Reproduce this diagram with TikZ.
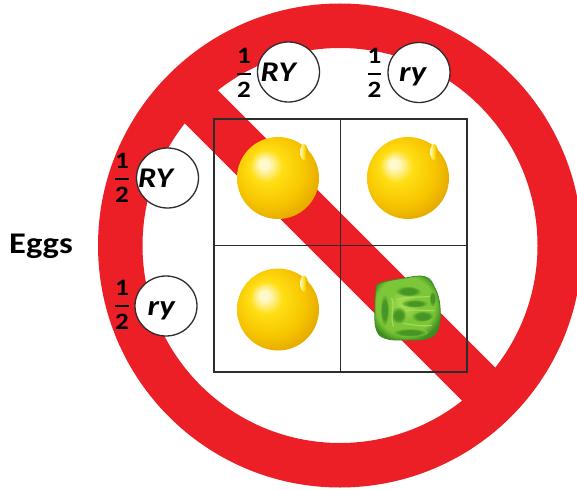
\documentclass[tikz,border=0pt]{standalone}
\usepackage{fontspec}
\setmainfont{Carlito}[FakeStretch=1.15]
\usepackage{amsmath}
\usetikzlibrary{shapes.geometric}

\definecolor{signred}{RGB}{236,30,38}
\definecolor{linegray}{RGB}{45,45,45}
\definecolor{pealight}{RGB}{255,248,200}
\definecolor{peayellow}{RGB}{255,222,20}
\definecolor{peamid}{RGB}{246,196,0}
\definecolor{peadark}{RGB}{222,160,0}
\definecolor{glight}{RGB}{170,222,90}
\definecolor{gmid}{RGB}{125,198,55}
\definecolor{gdark}{RGB}{60,140,32}
\definecolor{gpatch}{RGB}{70,150,38}
\definecolor{gridge}{RGB}{175,225,95}

\pgfdeclareradialshading{peashade}{\pgfpoint{-9bp}{9bp}}{%
  color(0bp)=(pealight); color(3bp)=(pealight); color(10bp)=(peayellow);
  color(22bp)=(peamid); color(33bp)=(peadark); color(50bp)=(peadark)}
\pgfdeclareradialshading{greenshade}{\pgfpoint{-3bp}{3bp}}{%
  color(0bp)=(glight); color(12bp)=(gmid); color(22bp)=(gmid); color(28bp)=(gdark); color(50bp)=(gdark)}
\pgfdeclareradialshading{patchshade}{\pgfpoint{0bp}{0bp}}{%
  color(0bp)=(gpatch); color(14bp)=(gpatch); color(25bp)=(gmid); color(50bp)=(gmid)}

\newcommand\onehalf{$\genfrac{}{}{2pt}{0}{\text{1}}{\text{2}}$}

\begin{document}
\begin{tikzpicture}[x=1pt,y=-1pt,
  gamete/.style={draw=linegray, line width=1.3pt, fill=white, ellipse,
    minimum width=62pt, minimum height=60pt, inner sep=0pt},
  allele/.style={font=\fontsize{28.5}{28.5}\selectfont\bfseries\itshape,
    inner sep=0pt, anchor=base west},
  half/.style={font=\fontsize{23.5}{23.5}\selectfont\bfseries, inner sep=0pt},
  cell/.style={draw=linegray, line width=1.3pt, minimum width=126.5pt,
    minimum height=126.5pt, inner sep=0pt},
  patch/.style={shading=patchshade},
  yellowpea/.pic={
    \shade[shading=peashade] (0,0) circle[radius=41pt];
    \shade[left color=pealight, right color=peadark, middle color=peayellow]
      (26,-26) ellipse[x radius=3.8pt, y radius=8pt];
  },
  greenpea/.pic={
    \shade[shading=greenshade, draw=gdark, line width=0.8pt]
      plot[smooth cycle, tension=0.7] coordinates {
        (-27.5,-25.2) (-4.2,-30.2) (17.5,-31.8) (27.5,-20.2) (32.5,-1.8)
        (30.8,19.8) (20.8,29.8) (-0.8,31.5) (-22.5,29.8) (-31.5,19.8)
        (-32.5,-1.8) (-31.5,-18.5)};
    % darker hollows between the wrinkles
    \shade[patch] (-23,1.5) ellipse[x radius=4.5pt, y radius=16pt];
    \shade[patch, rotate=-6] (-1,-17) ellipse[x radius=13pt, y radius=5pt];
    \shade[patch] (7.5,-5) ellipse[x radius=13pt, y radius=4pt];
    \shade[patch] (-9,7) ellipse[x radius=7.5pt, y radius=8pt];
    \shade[patch, rotate=8] (14,10) ellipse[x radius=11pt, y radius=5pt];
    \shade[patch] (2.5,24) ellipse[x radius=18pt, y radius=4.2pt];
    \shade[patch] (25,-10) ellipse[x radius=3.5pt, y radius=8pt];
    % light ridges
    \draw[gridge, line width=1.2pt, line cap=round, opacity=0.8]
      (-16,-10) .. controls (-12,-5) and (-18,8) .. (-14,18)
      (-10,-9) .. controls (0,-12) and (10,-11) .. (22,-12)
      (-1,2) .. controls (4,1) and (12,2) .. (26,2)
      (-4,15) .. controls (4,16) and (12,18) .. (24,17);
  },
]
\useasboundingbox (0,0) rectangle (577,489);

% prohibition sign: ring and slash
\coordinate (c) at (340,245.5);
\draw[signred, line width=44.5pt] (c) circle[radius=219.75pt];
\draw[signred, line width=47pt] (188,93.5) -- (492,397.5);

% Punnett square
\node[cell] (c11) at (277.25,182.25) {};
\node[cell] (c12) at (403.75,182.25) {};
\node[cell] (c21) at (277.25,308.75) {};
\node[cell] (c22) at (403.75,308.75) {};

% offspring
\pic at (278,178) {yellowpea};
\pic at (408,178) {yellowpea};
\pic at (278,309.5) {yellowpea};
\pic at (407.5,308.5) {greenpea};

% sperm (top) and eggs (left) gametes
\node[gamete] (sRY) at (288.5,72) {};
\node[gamete] (sry) at (419,72.5) {};
\node[gamete] (eRY) at (167.5,178) {};
\node[gamete] (ery) at (166,306) {};

\node[allele] (tsRY) at (260.5,82) {RY};
\node[allele] (tsry) at (399,82) {ry};
\node[allele] (teRY) at (138,187) {RY};
\node[allele] (tery) at (147.5,315) {ry};

\node[half] (fsRY) at (244,73) {\onehalf};
\node[half] (fsry) at (374.5,73) {\onehalf};
\node[half] (feRY) at (122,177.5) {\onehalf};
\node[half] (fery) at (122,305) {\onehalf};

\node[font=\fontsize{30}{30}\selectfont\bfseries, inner sep=0pt,
  anchor=base west] (eggs) at (9,253) {Eggs};
\end{tikzpicture}
\end{document}
